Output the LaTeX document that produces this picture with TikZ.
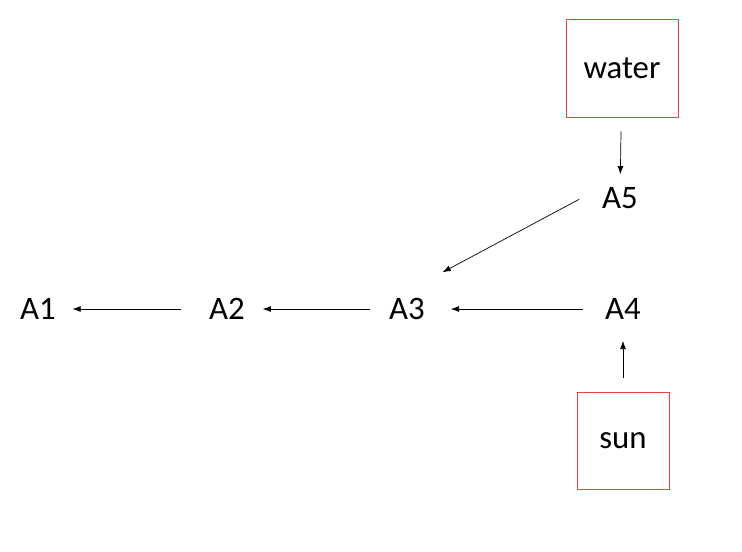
\documentclass[tikz,border=0pt]{standalone}
\usepackage{fontspec}
\setmainfont{Carlito}
\usetikzlibrary{arrows.meta}
\definecolor{boxred}{RGB}{237,64,64}
\tikzstyle{factor}=[inner sep=0pt, font=\fontsize{28}{34}\selectfont]
\tikzstyle{source}=[draw=boxred, line width=0.7pt, rectangle, font=\fontsize{28}{34}\selectfont]
\tikzstyle{link}=[-{Latex[length=7pt,width=5pt]}, line width=0.6pt]

\begin{document}
\begin{tikzpicture}[x=0.03cm, y=-0.03cm]
  \useasboundingbox (0,0) rectangle (742,552);
  \node[source, minimum width=3.36cm, minimum height=2.94cm] (water) at (622,68) {water};
  \node[factor] (A5) at (620,198) {A5};
  \path[link] (water) edge[shorten <=12pt, shorten >=11pt] (A5);

  \node[factor] (A1) at (38,309) {A1};
  \node[factor] (A2) at (227,309) {A2};
  \node[factor] (A3) at (407,309) {A3};
  \node[factor] (A4) at (623,309) {A4};
  \path[link] (A2) edge[shorten <=24pt, shorten >=14pt] (A1);
  \path[link] (A3) edge[shorten <=16pt, shorten >=15pt] (A2);
  \path[link] (A4) edge[shorten <=19pt, shorten >=22pt] (A3);
  \path[link] (A5.north west) edge[shorten <=22pt, shorten >=17pt] ([yshift=14pt]A3.north east);

  \node[source, minimum width=2.76cm, minimum height=2.91cm] (sun) at (623,440.5) {sun};
  \path[link] (sun) edge[shorten <=12pt, shorten >=18pt] (A4);
\end{tikzpicture}
\end{document}
